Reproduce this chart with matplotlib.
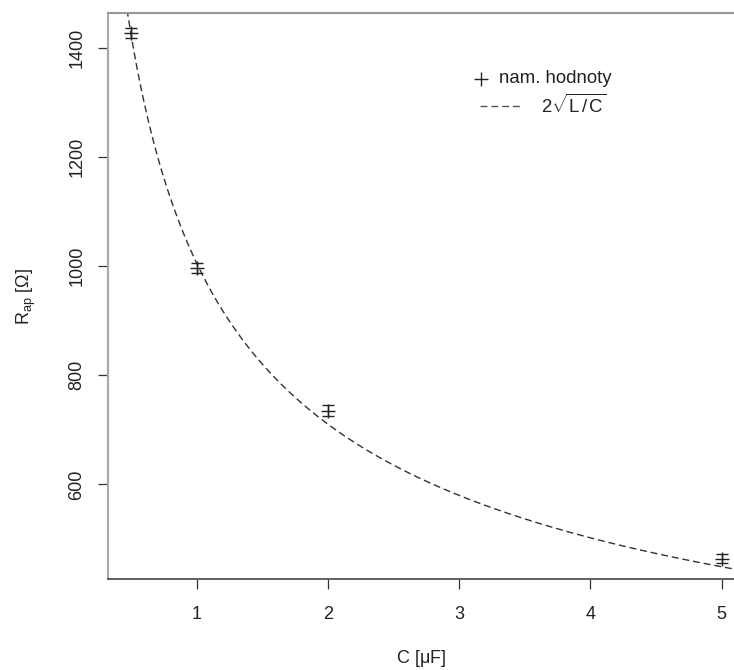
import numpy as np
import matplotlib
matplotlib.use("Agg")
import matplotlib.pyplot as plt

plt.rcParams["font.family"] = ["Liberation Sans", "DejaVu Sans"]
plt.rcParams["mathtext.fontset"] = "custom"
plt.rcParams["mathtext.rm"] = "Liberation Sans"
plt.rcParams["mathtext.it"] = "Liberation Sans"

# measured values
C_uF = [0.5, 1.0, 2.0, 5.0]
R_ap = [1427, 996, 735, 464]
R_err = [10, 9, 10, 9]

# theory: R = 2*sqrt(L/C)
L = 0.252  # H

x_ticks = [1, 2, 3, 4, 5]
y_ticks = [600, 800, 1000, 1200, 1400]

fig = plt.figure(figsize=(7.34, 6.70), dpi=100)
ax = fig.add_axes([0.1476, 0.1354, 0.8524, 0.8447])

c = np.linspace(0.3, 5.2, 400)
ax.plot(c, 2 * np.sqrt(L / (c * 1e-6)), color="#333333", lw=1.0,
        dashes=(5, 2.8))
ax.errorbar(C_uF, R_ap, yerr=R_err, fmt="+", color="#222222", ms=10,
            mew=1.0, elinewidth=1.0, capsize=4.5, capthick=1.0)

ax.set_xlim(0.324, 5.095)
ax.set_ylim(426, 1463)
ax.set_xticks(x_ticks)
ax.set_yticks(y_ticks)
ax.tick_params(axis="both", labelsize=13, length=7.5, width=0.9,
               colors="#333333", labelcolor="#222222")
ax.tick_params(axis="x", pad=12)
ax.tick_params(axis="y", pad=9)
plt.setp(ax.get_yticklabels(), rotation=90, va="center")

ax.spines["right"].set_visible(False)
ax.spines["top"].set_color("#999999")
ax.spines["top"].set_linewidth(1.5)
ax.spines["left"].set_color("#aaaaaa")
ax.spines["left"].set_linewidth(1.5)
ax.spines["bottom"].set_color("#444444")
ax.spines["bottom"].set_linewidth(1.2)
# axis line between first and last tick, like R's axis()
ax.plot([0, 0], [600, 1400], color="#555555", lw=1.5,
        transform=ax.get_yaxis_transform(), clip_on=False)

ax.set_xlabel(r"C [$\mathrm{\mu}$F]", fontsize=13, color="#222222",
              labelpad=18)
ax.set_ylabel(r"R$_{\mathrm{ap}}$ [$\Omega$]", fontsize=13,
              color="#222222", labelpad=22)

# legend drawn by hand (R style, no frame)
ax.plot([0.595], [0.884], marker="+", ms=10, mew=1.0, color="#222222",
        transform=ax.transAxes)
ax.text(0.625, 0.884, "nam. hodnoty", fontsize=13.4, color="#222222",
        va="center", ha="left", transform=ax.transAxes)
ax.plot([0.594, 0.66], [0.837, 0.837], color="#555555", lw=1.0,
        dashes=(5, 2.8), transform=ax.transAxes)
ax.text(0.692, 0.837, r"$\mathrm{2}\sqrt{\mathrm{L\,/\,C}}$", fontsize=13.4,
        color="#222222", va="center", ha="left", transform=ax.transAxes)

fig.savefig("out.png", dpi=100)
